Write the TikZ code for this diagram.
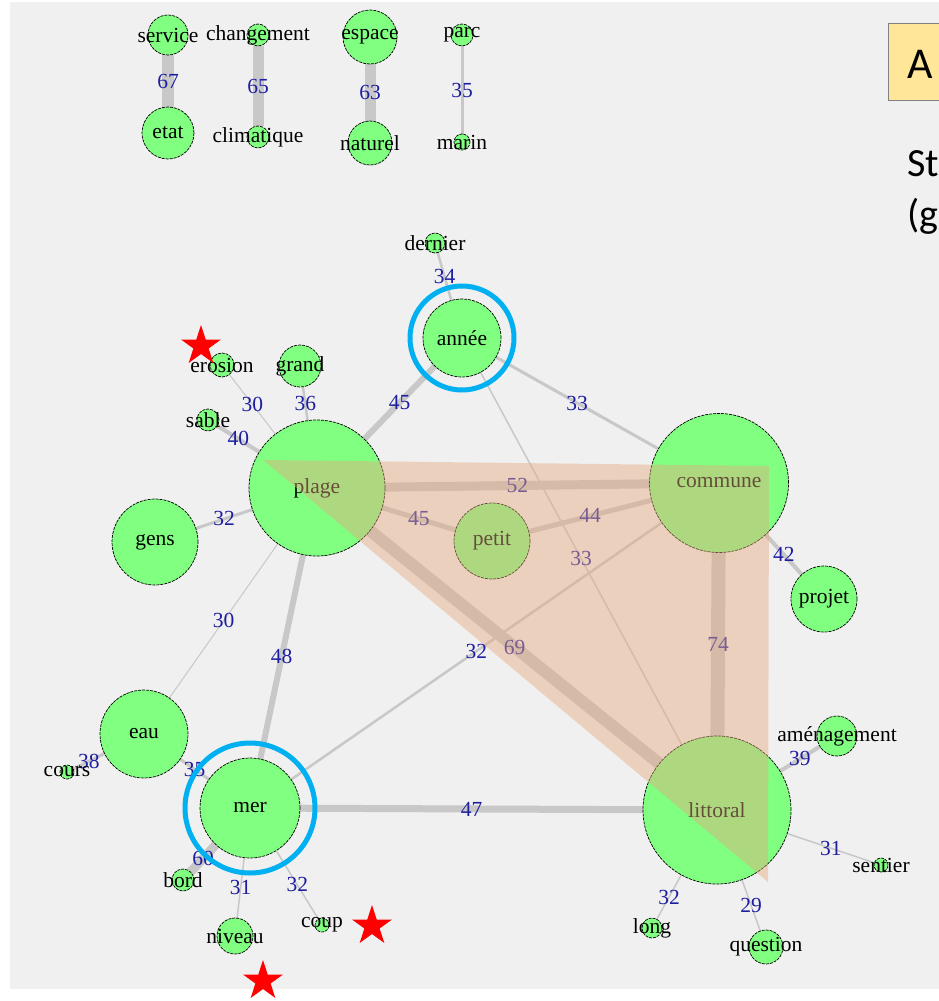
\documentclass[tikz,border=0pt]{standalone}
\usepackage{fontspec}
\setmainfont{Liberation Serif}
\newfontfamily\calibri{Carlito}
\usepackage{tikz}
\usetikzlibrary{shapes.geometric}

\definecolor{vgreen}{RGB}{128,255,128}
\definecolor{egray}{RGB}{200,200,200}
\definecolor{wblue}{RGB}{30,30,160}
\definecolor{bggray}{RGB}{240,240,240}
\definecolor{ringblue}{RGB}{0,176,240}
\definecolor{peach}{RGB}{230,170,130}
\definecolor{tagyellow}{RGB}{255,230,153}

\pgfdeclarelayer{back}
\pgfdeclarelayer{edges}
\pgfdeclarelayer{front}
\pgfsetlayers{back,edges,main,front}

\newcommand{\lblfont}{\fontsize{21.5}{24}\selectfont}

\tikzset{
  vtx/.style={circle, draw=black, line width=0.7pt, dash pattern=on 3pt off 1pt,
    fill=vgreen, inner sep=0pt, outer sep=0pt, minimum size=#1},
  every label/.style={font=\lblfont, inner sep=0pt},
  ed/.style={draw=egray, line width=#1},
  wt/.style={text=wblue, font=\lblfont, inner sep=0pt},
  ring/.style={draw=ringblue, line width=5pt},
  redstar/.style={star, star points=5, star point ratio=2.618, fill=red,
    inner sep=0pt, minimum size=42pt},
}

\begin{document}
\begin{tikzpicture}[x=1pt, y=-1pt]

    %% Background
    \useasboundingbox (0,0) rectangle (939,1001);
    \clip (0,0) rectangle (939,1001);
    \begin{pgfonlayer}{back}
    \fill[bggray] (10,2) rectangle (939,989);
    \end{pgfonlayer}

    % Small pairs
    \node[vtx=40, label=center:service] (service) at (168,35) {};
    \node[vtx=52, label=center:etat] (etat) at (168,133) {};
    \node[vtx=22, label=center:changement] (changement) at (258,35) {};
    \node[vtx=22, label=center:climatique] (climatique) at (258,137) {};
    \node[vtx=54, label=center:espace] (espace) at (370,37) {};
    \node[vtx=44, label=center:naturel] (naturel) at (370,143) {};
    \node[vtx=22, label=center:parc] (parc) at (462,35) {};
    \node[vtx=16, label=center:marin] (marin) at (462,142) {};

    % Main graph
    \node[vtx=20, label=center:dernier] (dernier) at (435,243) {};
    \node[vtx=78, label=center:année] (annee) at (462,338) {};
    \node[vtx=24, label=center:erosion] (erosion) at (222,365) {};
    \node[vtx=42, label=center:grand] (grand) at (300,366) {};
    \node[vtx=22, label=center:sable] (sable) at (208,420) {};
    \node[vtx=136, label=center:plage] (plage) at (317,488) {};
    \node[vtx=86, label=center:gens] (gens) at (155,542) {};
    \node[vtx=76, label=center:petit] (petit) at (492,541) {};
    \node[vtx=139, label=center:commune] (commune) at (719,483) {};
    \node[vtx=66, label=center:projet] (projet) at (824,599) {};
    \node[vtx=88, label=center:eau] (eau) at (144,734) {};
    \node[vtx=14, label=center:cours] (cours) at (67,772) {};
    \node[vtx=100, label=center:mer] (mer) at (250,808) {};
    \node[vtx=22, label=center:bord] (bord) at (183,880) {};
    \node[vtx=36, label=center:niveau] (niveau) at (235,936) {};
    \node[vtx=14, label=center:coup] (coup) at (322,925) {};
    \node[vtx=148, label=center:littoral] (littoral) at (717,810) {};
    \node[vtx=40, label=center:aménagement] (amenagement) at (837,736) {};
    \node[vtx=14, label=center:sentier] (sentier) at (881,865) {};
    \node[vtx=20, label=center:long] (long) at (652,928) {};
    \node[vtx=34, label=center:question] (question) at (766,947) {};

    % Edges with weights
    \begin{pgfonlayer}{edges}
    \draw[ed=12] (service) -- node[wt]{67} (etat);
    \draw[ed=11] (changement) -- node[wt]{65} (climatique);
    \draw[ed=11] (espace) -- node[wt]{63} (naturel);
    \draw[ed=3] (parc) -- node[wt]{35} (marin);

    \draw[ed=2.5] (dernier) -- node[wt]{34} (annee);
    \draw[ed=6] (annee) -- node[wt]{45} (plage);
    \draw[ed=3] (annee) -- node[wt]{33} (commune);
    \draw[ed=1.5] (annee) -- node[wt]{33} (littoral);
    \draw[ed=1] (erosion) -- node[wt]{30} (plage);
    \draw[ed=2.5] (grand) -- node[wt]{36} (plage);
    \draw[ed=4] (sable) -- node[wt]{40} (plage);
    \draw[ed=3] (gens) -- node[wt]{32} (plage);
    \draw[ed=9] (plage) -- node[wt]{52} (commune);
    \draw[ed=5] (plage) -- node[wt]{45} (petit);
    \draw[ed=5] (petit) -- node[wt]{44} (commune);
    \draw[ed=12] (plage) -- node[wt]{69} (littoral);
    \draw[ed=6] (plage) -- node[wt]{48} (mer);
    \draw[ed=1] (plage) -- node[wt]{30} (eau);
    \draw[ed=4] (commune) -- node[wt]{42} (projet);
    \draw[ed=14] (commune) -- node[wt]{74} (littoral);
    \draw[ed=2.5] (commune) -- node[wt]{32} (mer);
    \draw[ed=7] (mer) -- node[wt]{47} (littoral);
    \draw[ed=3] (eau) -- node[wt]{38} (cours);
    \draw[ed=3] (eau) -- node[wt]{35} (mer);
    \draw[ed=9] (mer) -- node[wt]{60} (bord);
    \draw[ed=1.5] (mer) -- node[wt]{31} (niveau);
    \draw[ed=1.5] (mer) -- node[wt]{32} (coup);
    \draw[ed=4] (littoral) -- node[wt]{39} (amenagement);
    \draw[ed=1.5] (littoral) -- node[wt]{31} (sentier);
    \draw[ed=1.5] (littoral) -- node[wt]{32} (long);
    \draw[ed=1.5] (littoral) -- node[wt]{29} (question);
    \end{pgfonlayer}

    \begin{pgfonlayer}{front}
    % Highlighted triangle
    \fill[peach, opacity=0.45] (263,460) -- (769,466) -- (768,882) -- cycle;

    % Rings
    \draw[ring] (annee) circle (52);
    \draw[ring] (mer) circle (65);

    % Stars
    \node[redstar] (star1) at (201,346) {};
    \node[redstar] (star2) at (372,926) {};
    \node[redstar] (star3) at (263,981) {};

    % Panel tag and caption
    \node[draw=gray, line width=1pt, fill=tagyellow, minimum width=80pt,
      minimum height=77pt, anchor=north west] (tag) at (888,23) {};
    \node[anchor=base west, inner sep=0pt, font=\calibri\fontsize{44}{50}\selectfont]
      (taga) at (907,78) {A};
    \node[anchor=base west, inner sep=0pt, font=\calibri\fontsize{40}{48}\selectfont]
      (cap1) at (907,176) {St};
    \node[anchor=base west, inner sep=0pt, font=\calibri\fontsize{40}{48}\selectfont]
      (cap2) at (907,227) {(g};
    \end{pgfonlayer}

\end{tikzpicture}
\end{document}
